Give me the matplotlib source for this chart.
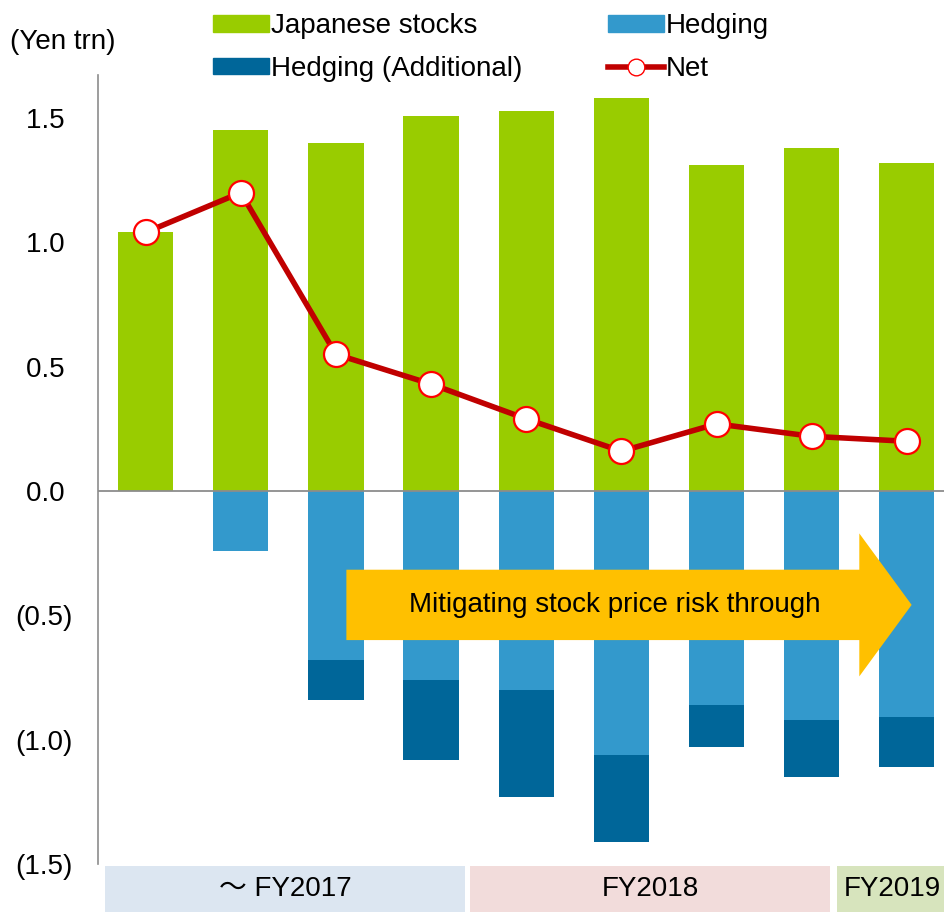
import matplotlib
matplotlib.use("Agg")
import matplotlib.pyplot as plt
import matplotlib.patches as mpatches
import matplotlib.transforms as mtransforms
from matplotlib.lines import Line2D

plt.rcParams['font.family'] = ['Liberation Sans', 'Noto Sans CJK JP', 'DejaVu Sans']

# data (Yen trn)
japanese_stocks = [1.04, 1.45, 1.40, 1.51, 1.53, 1.58, 1.31, 1.38, 1.32]
hedging = [0.0, -0.24, -0.68, -0.76, -0.80, -1.06, -0.86, -0.92, -0.91]
hedging_add = [0.0, 0.0, -0.16, -0.32, -0.43, -0.35, -0.17, -0.23, -0.20]
net = [1.04, 1.20, 0.55, 0.43, 0.29, 0.16, 0.27, 0.22, 0.20]
yticks = [-1.5, -1.0, -0.5, 0.0, 0.5, 1.0, 1.5]
ytick_labels = ["(1.5)", "(1.0)", "(0.5)", "0.0 ", "0.5 ", "1.0 ", "1.5 "]
periods = ["～ FY2017", "FY2018", "FY2019"]
period_edges = [(-0.43, 3.36), (3.41, 7.19), (7.27, 8.43)]
period_colors = ["#dce6f1", "#f2dcdb", "#d7e4bd"]

c_green = "#99cc00"
c_hedge = "#3399cc"
c_add = "#006699"
c_net = "#c00000"

fig = plt.figure(figsize=(9.44, 9.14), dpi=100)
ax = fig.add_axes([98 / 944, 50 / 914, 846 / 944, 789 / 914])

x = list(range(len(japanese_stocks)))
w = 0.58
ax.bar(x, japanese_stocks, width=w, color=c_green, zorder=2)
ax.bar(x, hedging, width=w, color=c_hedge, zorder=2)
ax.bar(x, hedging_add, width=w, bottom=hedging, color=c_add, zorder=2)
ax.axhline(0, color="#8c8c8c", lw=1.3, zorder=3)

# big arrow
arrow = mpatches.FancyArrow(2.11, -0.458, 5.94, 0, width=0.283, head_width=0.575,
                            head_length=0.55, length_includes_head=True,
                            color="#ffc000", lw=0, zorder=4)
ax.add_patch(arrow)
ax.text(4.93, -0.458, "Mitigating stock price risk through", ha="center", va="center",
        fontsize=20, zorder=5)

ax.plot(x, net, color=c_net, lw=4, marker="o", markersize=18, markerfacecolor="white",
        markeredgecolor="#ff0000", markeredgewidth=1.6, zorder=6)

ax.set_xlim(-0.5, 8.39)
ax.set_ylim(-1.5, 1.673)
ax.set_xticks([])
ax.set_yticks(yticks)
ax.set_yticklabels(ytick_labels, fontsize=20)
ax.tick_params(axis="y", length=0, pad=18.5)
for s in ["top", "right", "bottom"]:
    ax.spines[s].set_visible(False)
ax.spines["left"].set_color("#8c8c8c")
ax.spines["left"].set_linewidth(1.2)

# period bands below the axis
trans = mtransforms.blended_transform_factory(ax.transData, fig.transFigure)
for label, (x0, x1), col in zip(periods, period_edges, period_colors):
    ax.add_patch(mpatches.Rectangle((x0, 2 / 914), x1 - x0, 46 / 914, transform=trans,
                                    color=col, lw=0, clip_on=False))
    ax.text((x0 + x1) / 2, 25 / 914, label, transform=trans, ha="center", va="center",
            fontsize=20)

fig.text(10 / 944, 1 - 42 / 914, "(Yen trn)", ha="left", va="center", fontsize=20)

handles = [mpatches.Patch(color=c_green, label="Japanese stocks"),
           mpatches.Patch(color=c_add, label="Hedging (Additional)"),
           mpatches.Patch(color=c_hedge, label="Hedging"),
           Line2D([], [], color=c_net, lw=4, marker="o", markersize=12,
                  markerfacecolor="white", markeredgecolor="#ff0000", label="Net")]
fig.legend(handles=handles, ncol=2, loc="upper left", bbox_to_anchor=(213 / 944, 1 - 13 / 914),
           frameon=False, fontsize=20, handlelength=2.0, handleheight=0.55,
           handletextpad=0.08, columnspacing=3.1, labelspacing=0.61, borderpad=0,
           borderaxespad=0)

fig.savefig("out.png", dpi=100)
